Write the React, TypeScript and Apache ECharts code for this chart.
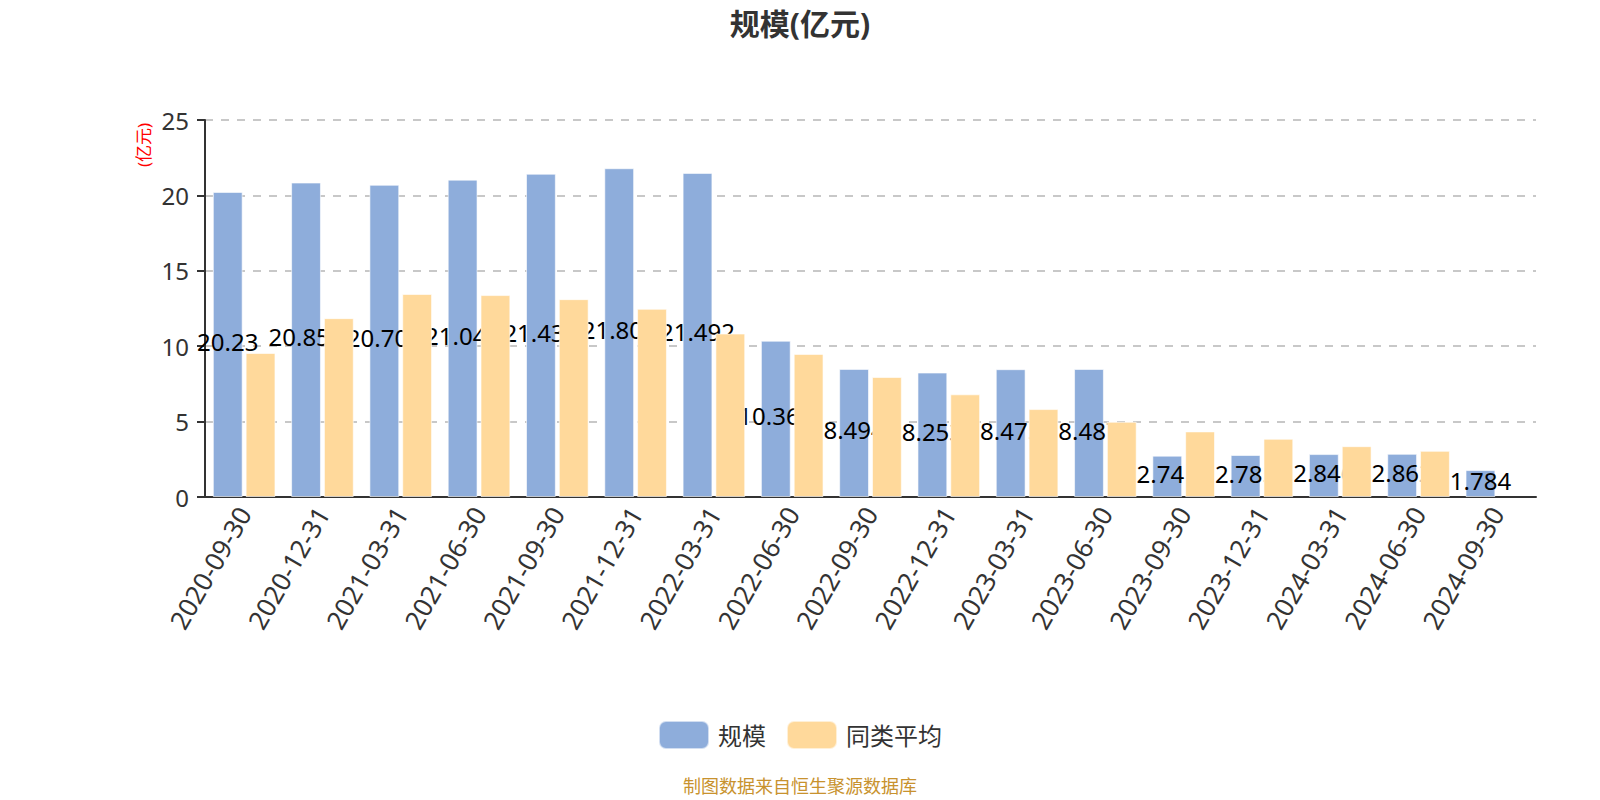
import React, { useEffect, useRef } from "react";
import * as echarts from "echarts";

const categories = [
  "2020-09-30", "2020-12-31", "2021-03-31", "2021-06-30", "2021-09-30", "2021-12-31",
  "2022-03-31", "2022-06-30", "2022-09-30", "2022-12-31", "2023-03-31", "2023-06-30",
  "2023-09-30", "2023-12-31", "2024-03-31", "2024-06-30", "2024-09-30",
];
// 规模 (亿元); the last decimal of most labels is hidden behind the neighbouring bar and is estimated
const scaleValues = [
  20.23, 20.853, 20.704, 21.045, 21.436, 21.802, 21.492, 10.363, 8.494,
  8.253, 8.475, 8.487, 2.741, 2.785, 2.846, 2.862, 1.784,
];
const peerAverage = [
  9.55, 11.86, 13.46, 13.39, 13.12, 12.48, 10.84, 9.49, 7.96, 6.81, 5.83, 4.99,
  4.35, 3.86, 3.37, 3.06, null,
];
const yTicks = { min: 0, max: 25, interval: 5 };
const titleText = "规模(亿元)";
const unitText = "(亿元)";
const sourceText = "制图数据来自恒生聚源数据库";
const seriesNames = ["规模", "同类平均"];

const FONT = "'Noto Sans', 'Noto Sans CJK SC', sans-serif";

export default function App() {
  const ref = useRef<HTMLDivElement>(null);
  useEffect(() => {
    if (!ref.current) return;
    const chart = echarts.init(ref.current, null, { renderer: "svg" });
    chart.setOption({
      animation: false,
      backgroundColor: "#ffffff",
      textStyle: { fontFamily: FONT },
      title: {
        text: titleText,
        left: "center",
        top: 3,
        textStyle: { fontSize: 30, fontWeight: "bold", color: "#333", fontFamily: FONT },
      },
      legend: {
        data: seriesNames,
        left: "center",
        top: 715,
        itemWidth: 50,
        itemHeight: 28,
        itemGap: 20,
        icon: "roundRect",
        textStyle: { fontSize: 24, color: "#333", fontFamily: FONT, padding: [0, 0, 0, 4] },
      },
      grid: { left: 205, right: 64, top: 120, bottom: 303, containLabel: false },
      xAxis: {
        type: "category",
        data: categories,
        boundaryGap: true,
        axisLine: { lineStyle: { color: "#333", width: 2 } },
        axisTick: { length: 8, lineStyle: { color: "#333", width: 2 } },
        axisLabel: { rotate: 60, fontSize: 26, color: "#333", margin: 12, interval: 0, fontFamily: FONT },
      },
      yAxis: {
        type: "value",
        min: yTicks.min,
        max: yTicks.max,
        interval: yTicks.interval,
        axisLine: { show: true, lineStyle: { color: "#333", width: 2 } },
        axisTick: { show: true, length: 8, lineStyle: { color: "#333", width: 2 } },
        axisLabel: { fontSize: 24, color: "#333", margin: 16, fontFamily: FONT },
        splitLine: { show: true, lineStyle: { color: "#c8c8c8", width: 2, type: [8, 8] } },
      },
      graphic: [
        {
          type: "text",
          x: 143,
          y: 145,
          rotation: Math.PI / 2,
          style: {
            text: unitText,
            fill: "#ff0000",
            fontSize: 17,
            fontFamily: FONT,
            align: "center",
            verticalAlign: "middle",
          },
        },
        {
          type: "text",
          left: "center",
          top: 777,
          style: { text: sourceText, fill: "#c8922e", fontSize: 18, fontFamily: FONT },
        },
      ],
      series: [
        {
          name: seriesNames[0],
          type: "bar",
          data: scaleValues,
          z: 2,
          barGap: "10%",
          barCategoryGap: "20%",
          itemStyle: { color: "#8eaddb", borderColor: "rgba(255,255,255,0.6)", borderWidth: 1 },
          label: {
            show: true,
            position: "inside",
            offset: [0, -3],
            color: "#000",
            fontSize: 24,
            fontFamily: FONT,
          },
        },
        {
          name: seriesNames[1],
          type: "bar",
          data: peerAverage,
          z: 3,
          barGap: "10%",
          barCategoryGap: "20%",
          itemStyle: { color: "#ffd99b", borderColor: "rgba(255,255,255,0.6)", borderWidth: 1 },
        },
      ],
    });
    return () => chart.dispose();
  }, []);
  return (
    <div
      ref={ref}
      style={{ position: "fixed", left: 0, top: 0, width: 1600, height: 800 }}
    />
  );
}
